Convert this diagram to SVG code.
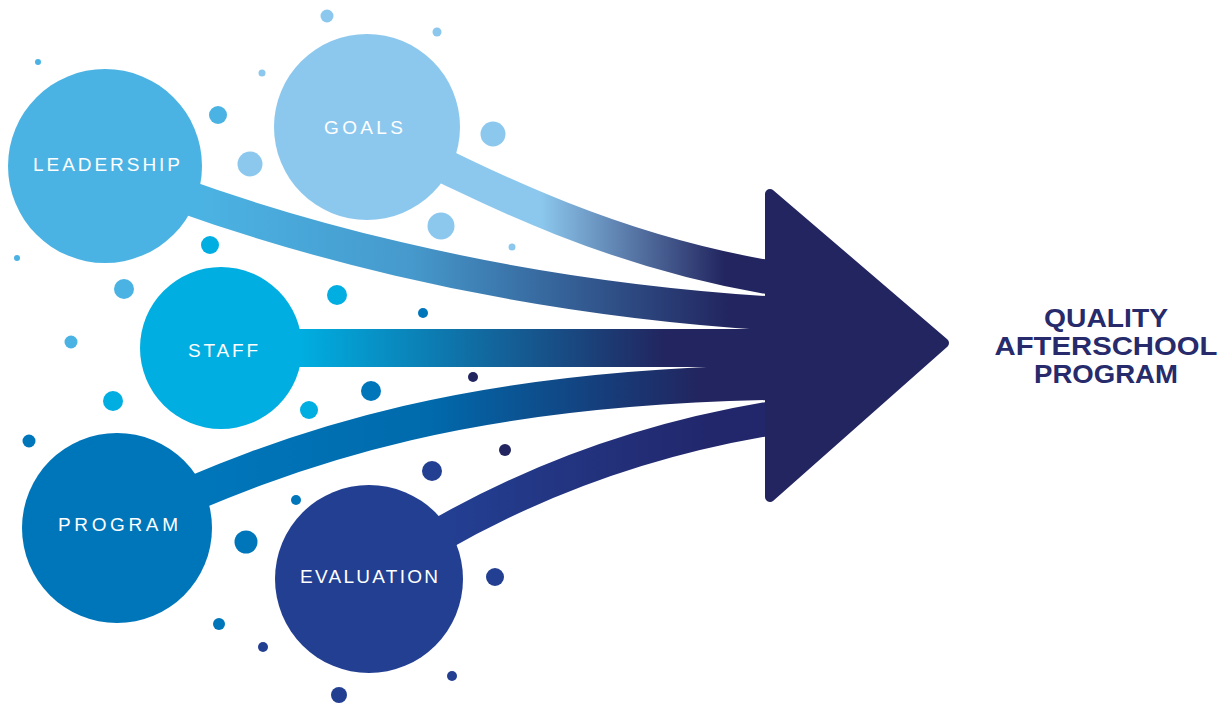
<svg xmlns="http://www.w3.org/2000/svg" width="1225" height="706" viewBox="0 0 1225 706">
<style>
.band{fill:none;stroke-linecap:butt}
.lbl{font-family:"Liberation Sans","DejaVu Sans",sans-serif;font-size:19px;fill:#ffffff}
.out{font-family:"Liberation Sans","DejaVu Sans",sans-serif;font-size:25px;font-weight:bold;fill:#272a6b;text-anchor:middle}
.c1{fill:#8cc8ee}.c2{fill:#4bb3e3}.c3{fill:#00aee1}.c4{fill:#0076ba}.c5{fill:#233f92}.c6{fill:#22255f}
</style>
<defs>
<linearGradient id="gGoals" gradientUnits="userSpaceOnUse" x1="540" y1="0" x2="725" y2="0"><stop offset="0" stop-color="#8cc8ee"/><stop offset="1" stop-color="#22255f"/></linearGradient>
<linearGradient id="gLead" gradientUnits="userSpaceOnUse" x1="200" y1="0" x2="730" y2="0"><stop offset="0" stop-color="#4bb3e3"/><stop offset="0.4" stop-color="#4699cc"/><stop offset="1" stop-color="#22255f"/></linearGradient>
<linearGradient id="gStaff" gradientUnits="userSpaceOnUse" x1="300" y1="0" x2="665" y2="0"><stop offset="0" stop-color="#00aee1"/><stop offset="1" stop-color="#22255f"/></linearGradient>
<linearGradient id="gProg" gradientUnits="userSpaceOnUse" x1="210" y1="0" x2="700" y2="0"><stop offset="0" stop-color="#0076ba"/><stop offset="0.45" stop-color="#006aac"/><stop offset="1" stop-color="#22255f"/></linearGradient>
<linearGradient id="gEval" gradientUnits="userSpaceOnUse" x1="450" y1="0" x2="720" y2="0"><stop offset="0" stop-color="#233f92"/><stop offset="1" stop-color="#22266a"/></linearGradient>
</defs>
<rect width="1225" height="706" fill="#ffffff"/>
<g id="dots">
<circle class="c1" cx="327" cy="16" r="6.5"/>
<circle class="c1" cx="437" cy="32" r="4.5"/>
<circle class="c1" cx="262" cy="73" r="3.5"/>
<circle class="c1" cx="250" cy="164" r="12.5"/>
<circle class="c1" cx="493" cy="134" r="12.5"/>
<circle class="c1" cx="441" cy="226" r="13.5"/>
<circle class="c1" cx="512" cy="247" r="3.5"/>
<circle class="c2" cx="38" cy="62" r="3"/>
<circle class="c2" cx="218" cy="115" r="9"/>
<circle class="c2" cx="17" cy="258" r="3"/>
<circle class="c2" cx="124" cy="289" r="10"/>
<circle class="c2" cx="71" cy="342" r="6.5"/>
<circle class="c3" cx="210" cy="245" r="9"/>
<circle class="c3" cx="337" cy="295" r="10"/>
<circle class="c3" cx="113" cy="401" r="10"/>
<circle class="c3" cx="309" cy="410" r="9"/>
<circle class="c4" cx="423" cy="313" r="5"/>
<circle class="c4" cx="371" cy="391" r="10"/>
<circle class="c4" cx="29" cy="441" r="6.5"/>
<circle class="c4" cx="296" cy="500" r="5"/>
<circle class="c4" cx="246" cy="542" r="11.5"/>
<circle class="c4" cx="219" cy="624" r="6"/>
<circle class="c5" cx="432" cy="471" r="10"/>
<circle class="c5" cx="495" cy="577" r="9"/>
<circle class="c5" cx="263" cy="647" r="5"/>
<circle class="c5" cx="452" cy="676" r="5"/>
<circle class="c5" cx="339" cy="695" r="8"/>
<circle class="c6" cx="473" cy="377" r="5"/>
<circle class="c6" cx="505" cy="450" r="6"/>
</g>
<g id="connectors">
<path class="band" stroke="url(#gGoals)" stroke-width="34" d="M367,127 C480,185 620,258 800,282"/>
<path class="band" stroke="url(#gLead)" stroke-width="34" d="M105,166 C260,230 500,300 800,315"/>
<path class="band" stroke="url(#gStaff)" stroke-width="38" d="M221,348 L800,348"/>
<path class="band" stroke="url(#gProg)" stroke-width="35" d="M117,528 C300,440 480,385 800,382"/>
<path class="band" stroke="url(#gEval)" stroke-width="34" d="M369,579 C470,510 610,440 800,414"/>
</g>
<g id="quality">
<path d="M770,194 L944,343 L770,497 Z" fill="#22255f" stroke="#22255f" stroke-width="10" stroke-linejoin="round"/>
<text class="out" x="1106" y="327" textLength="124" lengthAdjust="spacingAndGlyphs">QUALITY</text>
<text class="out" x="1106" y="355" textLength="223" lengthAdjust="spacingAndGlyphs">AFTERSCHOOL</text>
<text class="out" x="1106" y="383" textLength="144" lengthAdjust="spacingAndGlyphs">PROGRAM</text>
</g>
<g id="leadership">
<circle class="c2" cx="105" cy="166" r="97"/>
<text class="lbl" x="33" y="171" textLength="147" lengthAdjust="spacing">LEADERSHIP</text>
</g>
<g id="goals">
<circle class="c1" cx="367" cy="127" r="93"/>
<text class="lbl" x="324" y="134" textLength="79" lengthAdjust="spacing">GOALS</text>
</g>
<g id="staff">
<circle class="c3" cx="221" cy="348" r="81"/>
<text class="lbl" x="188" y="357" textLength="70" lengthAdjust="spacing">STAFF</text>
</g>
<g id="program">
<circle class="c4" cx="117" cy="528" r="95"/>
<text class="lbl" x="58" y="531" textLength="120" lengthAdjust="spacing">PROGRAM</text>
</g>
<g id="evaluation">
<circle class="c5" cx="369" cy="579" r="94"/>
<text class="lbl" x="300" y="583" textLength="138" lengthAdjust="spacing">EVALUATION</text>
</g>
</svg>
